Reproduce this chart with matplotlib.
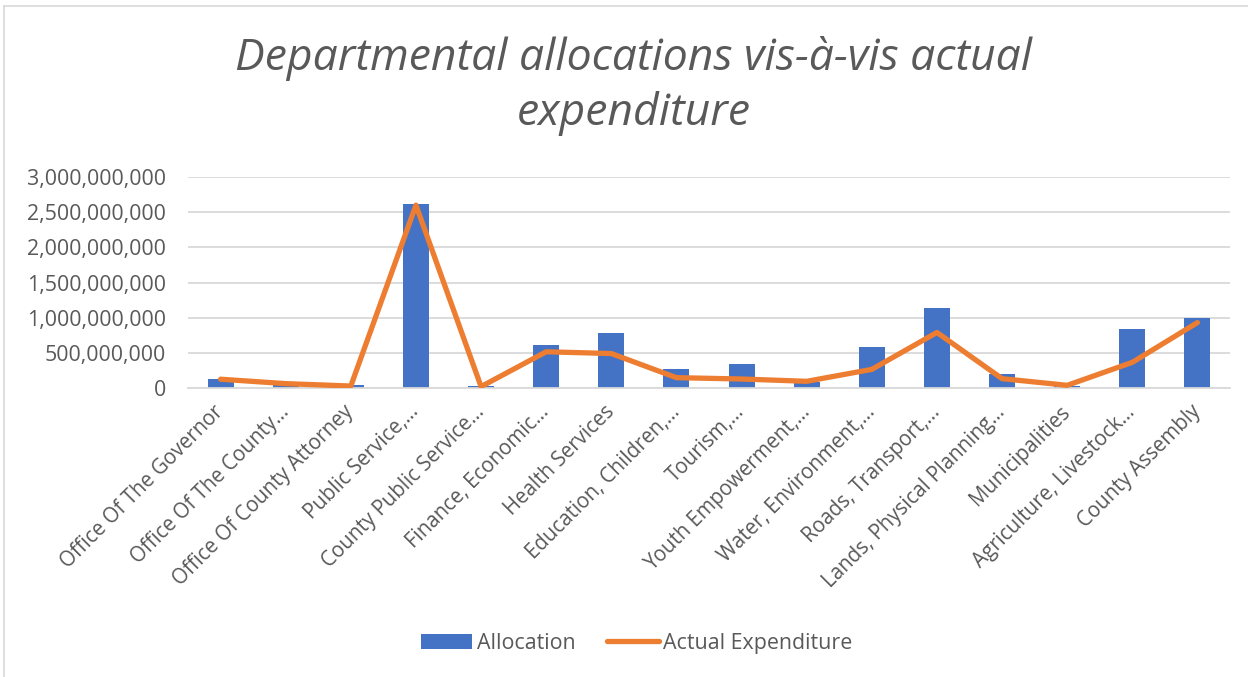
import numpy as np
import matplotlib.pyplot as plt
from matplotlib.ticker import FuncFormatter
from matplotlib.lines import Line2D

departments = ['Office Of The Governor', 'Office Of The County…', 'Office Of County Attorney',
               'Public Service,…', 'County Public Service…', 'Finance, Economic…',
               'Health Services', 'Education, Children,…', 'Tourism,…',
               'Youth Empowerment,…', 'Water, Environment,…', 'Roads, Transport,…',
               'Lands, Physical Planning…', 'Municipalities', 'Agriculture, Livestock…',
               'County Assembly']
# values in KES
allocation = [133e6, 40e6, 38e6, 2622e6, 24e6, 610e6, 780e6, 270e6, 340e6,
              80e6, 588e6, 1134e6, 195e6, 30e6, 845e6, 990e6]
actual_exp = [125e6, 62e6, 28e6, 2600e6, 20e6, 515e6, 490e6, 147e6, 128e6,
              95e6, 265e6, 790e6, 133e6, 38e6, 365e6, 930e6]

grey = '#595959'
plt.rcParams['font.family'] = ['Open Sans', 'DejaVu Sans']

fig = plt.figure(figsize=(12.48, 6.77), dpi=100)
ax = fig.add_axes([188/1248, 1-388/677, 1042/1248, 211/677])

x = np.arange(len(departments))
bars = ax.bar(x, allocation, width=0.4, color='#4472C4', label='Allocation', zorder=2)
line, = ax.plot(x, actual_exp, color='#ED7D31', lw=3.8, label='Actual Expenditure',
                solid_capstyle='round', solid_joinstyle='round', zorder=3)

ax.set_xlim(-0.5, len(departments)-0.5)
ax.set_ylim(0, 3e9)
ax.set_yticks(np.arange(0, 3.01e9, 5e8))
ax.yaxis.set_major_formatter(FuncFormatter(lambda v, p: f'{v:,.0f}'))
ax.grid(axis='y', color='#D9D9D9', lw=1.3, zorder=0)
ax.set_axisbelow(True)
for s in ['top', 'right', 'left']:
    ax.spines[s].set_visible(False)
ax.spines['bottom'].set_color('#D9D9D9')
ax.spines['bottom'].set_linewidth(1.3)
ax.tick_params(axis='both', length=0, colors=grey)
ax.tick_params(axis='y', labelsize=15.4, pad=16)
ax.set_xticks(x)
ax.set_xticklabels(departments, rotation=45, ha='right', va='center',
                   rotation_mode='anchor', fontsize=14.8, color=grey)
ax.tick_params(axis='x', pad=15)

fig.text(0.508, 0.873, 'Departmental allocations vis-à-vis actual\nexpenditure',
         ha='center', va='center', fontsize=32, style='italic', color=grey,
         linespacing=1.3)

fig.legend([bars, line], ['Allocation', 'Actual Expenditure'],
           loc='center', bbox_to_anchor=(0.51, 0.05), ncol=2, frameon=False,
           fontsize=15.4, labelcolor=grey, handlelength=2.4, handleheight=0.7,
           columnspacing=1.5, handletextpad=0.2)

# chart border (top/left)
fig.add_artist(Line2D([4/1248, 4/1248], [0, 1-6/677], color='#D9D9D9', lw=1.2))
fig.add_artist(Line2D([4/1248, 1], [1-6/677, 1-6/677], color='#D9D9D9', lw=1.2))

plt.savefig('out.png', dpi=100, facecolor='white')
